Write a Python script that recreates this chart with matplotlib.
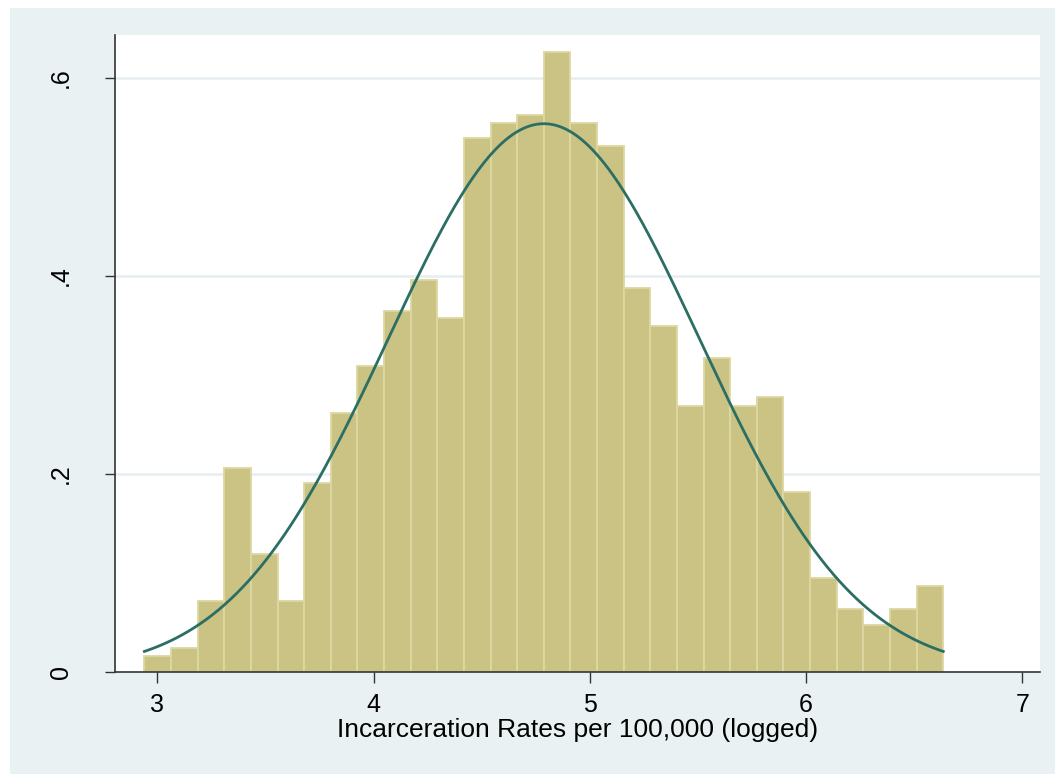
import numpy as np
import matplotlib
matplotlib.use("Agg")
import matplotlib.pyplot as plt
from matplotlib.patches import Rectangle

# ---- data ----
data_min = 2.94          # lower edge of first bin
data_max = 6.634         # upper edge of last bin
density = [0.0162, 0.0239, 0.0717, 0.2057, 0.1189, 0.0717, 0.1906, 0.2613,
           0.3090, 0.3646, 0.3960, 0.3570, 0.5390, 0.5540, 0.5626, 0.6260,
           0.5540, 0.5310, 0.3880, 0.3488, 0.2690, 0.3168, 0.2690, 0.2775,
           0.1822, 0.0953, 0.0633, 0.0475, 0.0633, 0.0869]
norm_mean = 4.787
norm_sd = 0.7208
x_ticks = [3, 4, 5, 6, 7]
x_tick_labels = ["3", "4", "5", "6", "7"]
y_ticks = [0, 0.2, 0.4, 0.6]
y_tick_labels = ["0", ".2", ".4", ".6"]
x_label = "Incarceration Rates per 100,000 (logged)"

plt.rcParams['font.family'] = ['Liberation Sans', 'DejaVu Sans']

W, H = 1055, 774
fig = plt.figure(figsize=(W / 100, H / 100), dpi=100, facecolor='white')
bg = '#EAF1F3'
fig.patches.append(Rectangle((10 / W, 0), 1 - 10 / W, (H - 8) / H,
                             transform=fig.transFigure, facecolor=bg,
                             edgecolor='none', zorder=-10))

left, right, top, bottom = 115, 1039.5, 35, 672
ax = fig.add_axes([left / W, (H - bottom) / H, (right - left) / W, (bottom - top) / H])
ax.set_facecolor('white')

edges = np.linspace(data_min, data_max, len(density) + 1)
widths = np.diff(edges)
ax.bar(edges[:-1], density, width=widths, align='edge', color='#CBC383',
       edgecolor='#DDD7A3', linewidth=1.3, zorder=2)

xs = np.linspace(data_min, data_max, 400)
ys = np.exp(-0.5 * ((xs - norm_mean) / norm_sd) ** 2) / (norm_sd * np.sqrt(2 * np.pi))
ax.plot(xs, ys, color='#2B6E64', linewidth=2.0, zorder=3)

ax.set_xlim(2.804, 7.079)
ax.set_ylim(0, 0.643)
ax.set_xticks(x_ticks)
ax.set_xticklabels(x_tick_labels)
ax.set_yticks(y_ticks)
ax.set_yticklabels(y_tick_labels, rotation=90, va='center')
for yv in y_ticks[1:]:
    ax.axhline(yv, color='#E6EEF1', linewidth=1.8, zorder=1)

for s in ['top', 'right']:
    ax.spines[s].set_visible(False)
for s in ['left', 'bottom']:
    ax.spines[s].set_color('#333333')
    ax.spines[s].set_linewidth(1.2)

ax.tick_params(axis='x', length=8, width=1.0, color='#333333', labelsize=18, pad=7)
ax.tick_params(axis='y', length=7.5, width=1.0, color='#333333', labelsize=18, pad=23)
ax.set_xlabel(x_label, fontsize=19, labelpad=1)

fig.savefig('out.png', dpi=100, facecolor='white')
